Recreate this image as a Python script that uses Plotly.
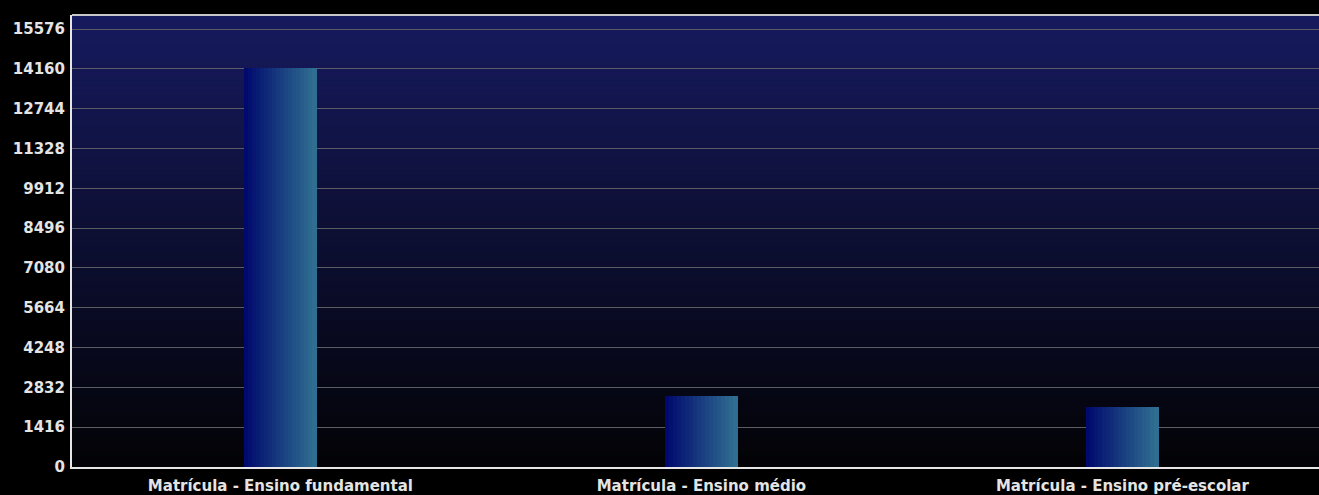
import plotly.graph_objects as go

categories = ["Matrícula - Ensino fundamental", "Matrícula - Ensino médio", "Matrícula - Ensino pré-escolar"]
values = [14180, 2530, 2130]
tick_step = 1416
y_max = 16074

# style
bar_width = 0.171
n_slices = 18
c_left = (0, 10, 110)
c_right = (48, 110, 145)
bg_top = (22, 26, 94)
bg_bottom = (3, 3, 6)

def mix(a, b, t):
    return "rgb(%d,%d,%d)" % tuple(round(a[i] + (b[i] - a[i]) * t) for i in range(3))

fig = go.Figure()
x_idx = list(range(len(categories)))
sw = bar_width / n_slices
for s in range(n_slices):
    fig.add_trace(go.Bar(
        x=x_idx, y=values,
        width=[sw * 1.08] * len(values),
        offset=-bar_width / 2 + s * sw,
        marker=dict(color=mix(c_left, c_right, s / (n_slices - 1)), line=dict(width=0)),
        showlegend=False, hoverinfo="skip",
    ))

# background vertical gradient
n_bands = 90
shapes = []
for i in range(n_bands):
    t = i / (n_bands - 1)
    shapes.append(dict(type="rect", xref="paper", yref="paper",
                       x0=0, x1=1, y0=max(0, 1 - (i + 1.6) / n_bands), y1=1 - i / n_bands,
                       fillcolor=mix(bg_top, bg_bottom, t), line=dict(width=0), layer="below"))
shapes.append(dict(type="line", xref="paper", yref="paper", x0=0, x1=1, y0=1, y1=1,
                   line=dict(color="#c8c8c8", width=2)))

tf = dict(family="DejaVu Sans", size=15, color="#e4e4e4", weight="bold")

fig.update_layout(
    width=1319, height=495,
    margin=dict(l=72, r=0, t=15, b=28),
    paper_bgcolor="black", plot_bgcolor="rgba(0,0,0,0)",
    barmode="overlay", bargap=0,
    shapes=shapes,
    font=dict(family="DejaVu Sans", size=15, color="#e4e4e4"),
    xaxis=dict(range=[-0.495, 2.467], tickvals=x_idx, ticktext=categories,
               showgrid=False, zeroline=False, showline=True, linecolor="#e6e6e6", linewidth=2,
               ticks="outside", ticklen=4, tickcolor="rgba(0,0,0,0)", tickfont=tf),
    yaxis=dict(range=[0, y_max], tick0=0, dtick=tick_step, tickformat="d", showgrid=True,
               gridcolor="#5c5c64", gridwidth=1, zeroline=False,
               showline=True, linecolor="#e6e6e6", linewidth=2,
               ticks="outside", ticklen=2, tickcolor="rgba(0,0,0,0)",
               tickfont=tf),
)

fig.write_html("out.html", config={"displayModeBar": False},
               post_script="document.body.style.margin='0';document.body.style.overflow='hidden';")
